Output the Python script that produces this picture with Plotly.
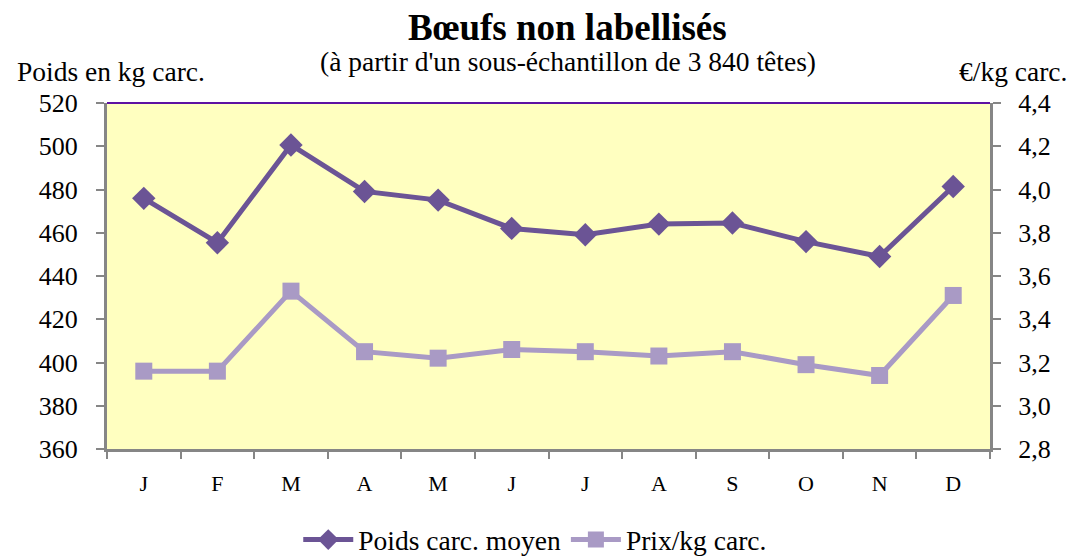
import plotly.graph_objects as go

# Monthly data
months = ["J", "F", "M", "A", "M", "J", "J", "A", "S", "O", "N", "D"]
poids = [475.9, 455.4, 500.6, 479.1, 475.1, 462.0, 459.1, 464.0, 464.5, 455.9, 449.0, 481.4]
prix = [3.16, 3.16, 3.53, 3.25, 3.22, 3.26, 3.25, 3.23, 3.25, 3.19, 3.14, 3.51]

poids_ticks = [360, 380, 400, 420, 440, 460, 480, 500, 520]
prix_ticks = [2.8, 3.0, 3.2, 3.4, 3.6, 3.8, 4.0, 4.2, 4.4]

FONT = "Times New Roman, Liberation Serif, serif"
AXIS_GREY = "#868686"
DARK = "#6B5495"
LIGHT = "#A99AC5"


def f(size, **kw):
    return dict(family=FONT, size=size, color="black", **kw)


x = list(range(len(months)))
bounds = [i - 0.5 for i in range(len(months) + 1)]
xr = [-0.5, len(months) - 0.5]

fig = go.Figure()
fig.add_trace(go.Scatter(
    x=x, y=poids, name="Poids carc. moyen", mode="lines+markers",
    line=dict(color=DARK, width=5),
    marker=dict(symbol="diamond", size=18, color=DARK),
    yaxis="y",
))
fig.add_trace(go.Scatter(
    x=x, y=prix, name="Prix/kg carc.", mode="lines+markers",
    line=dict(color=LIGHT, width=5),
    marker=dict(symbol="square", size=17, color=LIGHT),
    yaxis="y2",
))

common_y = dict(showgrid=False, zeroline=False, showline=True,
                linecolor=AXIS_GREY, linewidth=3, tickcolor=AXIS_GREY,
                tickwidth=2, ticklen=8)

fig.update_layout(
    width=1072, height=557,
    margin=dict(l=107, r=82, t=103, b=108, autoexpand=False),
    paper_bgcolor="white",
    plot_bgcolor="#FFFFC0",
    separators=", ",
    font=f(22),
    showlegend=True,
    legend=dict(orientation="h", x=0.485, xanchor="center", y=-0.262, yanchor="middle",
                font=f(27.5), itemwidth=50, tracegroupgap=0,
                bgcolor="rgba(0,0,0,0)"),
    xaxis=dict(
        range=xr, tickmode="array", tickvals=x, ticktext=months, ticks="",
        showgrid=False, zeroline=False, showline=True, linecolor=AXIS_GREY,
        linewidth=3, tickfont=f(22), ticklabelstandoff=13,
        minor=dict(tickmode="array", tickvals=bounds, ticks="outside",
                   ticklen=7, tickwidth=2, tickcolor=AXIS_GREY, showgrid=False),
    ),
    xaxis2=dict(
        range=xr, overlaying="x", anchor="y", side="bottom",
        tickmode="array", tickvals=bounds, ticks="inside", ticklen=7,
        tickwidth=2, tickcolor=AXIS_GREY, showticklabels=False,
        showgrid=False, zeroline=False, showline=False,
    ),
    yaxis=dict(range=[360, 520], tickvals=poids_ticks, ticks="outside",
               tickfont=f(26), ticklabelstandoff=13, **common_y),
    yaxis2=dict(range=[2.8, 4.4], tickvals=prix_ticks, tickformat=".1f",
                overlaying="y", side="right", anchor="x", ticks="outside",
                tickfont=f(26), ticklabelstandoff=12, **common_y),
    yaxis3=dict(range=[360, 520], tickvals=poids_ticks, overlaying="y",
                side="left", anchor="x", ticks="inside", showticklabels=False,
                **common_y),
    yaxis4=dict(range=[2.8, 4.4], tickvals=prix_ticks, overlaying="y",
                side="right", anchor="x", ticks="inside", showticklabels=False,
                **common_y),
    shapes=[dict(type="line", xref="paper", yref="paper", x0=0, x1=1, y0=1, y1=1,
                 line=dict(color="#5E12A3", width=2))],
    annotations=[
        dict(text="<b>Bœufs non labellisés</b>", xref="paper", yref="paper",
             x=0.522, y=1.218, xanchor="center", yanchor="middle",
             showarrow=False, font=f(37)),
        dict(text="(à partir d'un sous-échantillon de 3 840 têtes)", xref="paper",
             yref="paper", x=0.522, y=1.12, xanchor="center", yanchor="middle",
             showarrow=False, font=f(27.5)),
        dict(text="Poids en kg carc.", xref="paper", yref="paper",
             x=-0.104, y=1.09, xanchor="left", yanchor="middle",
             showarrow=False, font=f(27.5)),
        dict(text="€/kg carc.", xref="paper", yref="paper",
             x=1.09, y=1.09, xanchor="right", yanchor="middle",
             showarrow=False, font=f(27.5)),
    ],
)

fig.write_html("out.html")
